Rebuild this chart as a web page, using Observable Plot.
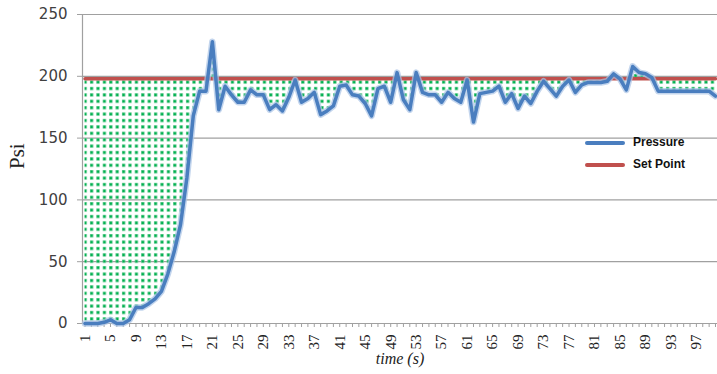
<!DOCTYPE html>
<html><head><meta charset="utf-8">
<script src="https://cdn.jsdelivr.net/npm/d3@7"></script>
<script src="https://cdn.jsdelivr.net/npm/@observablehq/plot@0.6"></script>
<style>
body{margin:0;background:#fff}
#wrap{position:relative;width:717px;height:374px}
.leg{position:absolute;font-family:"Liberation Sans",Arial,sans-serif;font-weight:bold;font-size:12px;color:#111}
.leg span{display:inline-block;width:40px;height:3.5px;vertical-align:middle;margin-right:8px;border-radius:2px}
</style>
</head><body><div id="wrap"></div>
<script>
const time = [1,2,3,4,5,6,7,8,9,10,11,12,13,14,15,16,17,18,19,20,21,22,23,24,25,26,27,28,29,30,31,32,33,34,35,36,37,38,39,40,41,42,43,44,45,46,47,48,49,50,51,52,53,54,55,56,57,58,59,60,61,62,63,64,65,66,67,68,69,70,71,72,73,74,75,76,77,78,79,80,81,82,83,84,85,86,87,88,89,90,91,92,93,94,95,96,97,98,99,100];
const pressure = [0,0,0,1,3,0,0,3,13,13,
  16,20,26,40,58,80,118,168,188,188,
  228,173,192,185,179,179,189,185,185,173,
  177,172,183,197,179,182,187,169,172,176,
  192,193,185,184,178,168,190,192,179,203,
  181,173,203,187,185,185,179,187,182,179,
  197,163,186,187,188,192,179,186,174,184,
  178,188,196,190,184,192,197,187,193,195,
  195,195,196,202,198,189,208,203,202,199,
  188,188,188,188,188,188,188,188,188,184];
const setPoint = 198;
const yTicks = [0,50,100,150,200,250];
const xTickLabels = [1,5,9,13,17,21,25,29,33,37,41,45,49,53,57,61,65,69,73,77,81,85,89,93,97];
const seriesNames = ["Pressure","Set Point"];
const colors = {blue:"#4a7ebf", red:"#c0504d", green:"#00b050", grid:"#a0a0a0"};

const data = time.map((t,i)=>({t, p: pressure[i], s: setPoint}));

const chart = Plot.plot({
  width: 717, height: 374,
  marginLeft: 82, marginRight: 0, marginTop: 14, marginBottom: 51,
  x: {domain: [1,100], insetLeft: 2.5, insetRight: 2},
  y: {domain: [0,250]},
  style: {background: "#fff", overflow: "visible"},
  marks: [
    Plot.ruleY(yTicks, {stroke: colors.grid, strokeWidth: 1.2}),
    Plot.areaY(data, {x: "t", y1: "s", y2: "p", fill: "url(#dots)"}),
    Plot.frame({anchor: "left", stroke: colors.grid, strokeWidth: 1.2}),
    Plot.axisY({ticks: yTicks, tickSize: 5, tickPadding: 10, stroke: colors.grid, label: null,
      fontSize: 15, fontFamily: "DejaVu Sans", fill: "#404040"}),
    Plot.axisX({ticks: time, tickSize: 4, text: null, stroke: colors.grid, label: null}),
    Plot.axisX({ticks: xTickLabels, tickSize: 0, tickPadding: 11, tickRotate: -90, label: null,
      fontSize: 15, fontFamily: "Liberation Serif", fill: "#222"}),
    Plot.lineY(data, {x: "t", y: "s", stroke: colors.red, strokeWidth: 3.5}),
    Plot.lineY(data, {x: "t", y: "p", stroke: "#a9c3e6", strokeWidth: 6.5, strokeOpacity: 0.7, strokeLinejoin: "round"}),
    Plot.lineY(data, {x: "t", y: "p", stroke: colors.blue, strokeWidth: 3.5, strokeLinejoin: "round"}),
    Plot.text(["Psi"], {frameAnchor: "left", dx: -65, rotate: -90, fontSize: 21, fontFamily: "Liberation Serif", fill: "#222"}),
    Plot.text(["time (s)"], {frameAnchor: "bottom", dy: 40, fontSize: 16, fontStyle: "italic", fontFamily: "Liberation Serif", fill: "#222"})
  ]
});

const svg = d3.select(chart);
const defs = svg.insert("defs", ":first-child");
const pat = defs.append("pattern").attr("id","dots").attr("patternUnits","userSpaceOnUse")
  .attr("width",6.4).attr("height",6.4).attr("x",83.5).attr("y",253.2);
pat.append("rect").attr("x",0).attr("y",0).attr("width",3.4).attr("height",3.4).attr("fill","#7fd3a2");
pat.append("rect").attr("x",0.5).attr("y",0.5).attr("width",2.4).attr("height",2.4).attr("fill",colors.green);

const wrap = document.getElementById("wrap");
wrap.appendChild(chart);
[[seriesNames[0], colors.blue, 135],[seriesNames[1], colors.red, 157]].forEach(([name,c,top])=>{
  const d = document.createElement("div");
  d.className = "leg";
  d.style.left = "585px"; d.style.top = top + "px";
  d.innerHTML = `<span style="background:${c}"></span>${name}`;
  wrap.appendChild(d);
});
</script>
</body></html>
